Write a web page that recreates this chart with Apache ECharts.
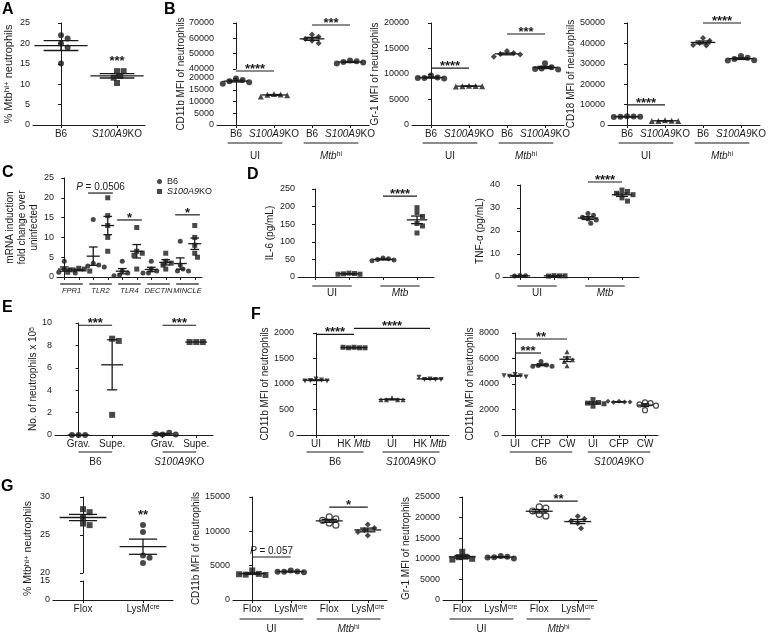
<!DOCTYPE html>
<html><head><meta charset="utf-8">
<script src="https://cdn.jsdelivr.net/npm/echarts@6/dist/echarts.min.js"></script>
<style>html,body{margin:0;padding:0;background:#fff}#c{width:768px;height:638px}</style>
</head><body><div id="c"></div><script>
// ================= DATA =================
// A
const A_cats = ['B6', 'S100A9KO'];
const A_B6 = [22.0, 21.2, 20.0, 19.0, 15.1];
const A_KO = [13.2, 13.2, 12.0, 11.6, 10.3];
// B (groups: B6 UI, KO UI, B6 Mtbhi, KO Mtbhi)
const B_cats = ['B6', 'S100A9KO', 'B6', 'S100A9KO'];
const B_groups = ['UI', 'Mtbhi'];
const B1_vals = [[19800,19200,18600,18200,17600],[13200,13000,12900,12700,12100],[62500,61000,59500,58500,56800],[45500,45000,44600,44200,43600]];
const B2_vals = [[9700,9300,9200,9100,9200],[7700,7650,7600,7600,7550],[14500,14100,13900,13800,13400],[12100,11300,11100,11000,10900]];
const B3_vals = [[4300,4200,4000,4000,3900],[2300,2100,2000,2000,1900],[42700,41300,40200,39200,39000],[33800,33000,32400,31800,31600]];
// C
const C_genes = ['FPR1','TLR2','TLR4','DECTIN','MINCLE'];
const C_series = ['B6','S100A9KO'];
const C_B6 = [[4.0,2.0,1.8,1.2,1.0],[14.5,3.5,3.0,2.8,2.5],[4.0,1.5,1.0,0.5,0.3],[4.0,2.0,1.5,1.0,1.0],[9.0,3.0,2.0,1.5,1.5]];
const C_KO = [[2.2,2.0,1.8,1.5,1.2],[20.0,15.5,13.0,10.0,6.5],[12.5,6.5,6.0,5.5,2.0],[6.0,4.0,3.5,3.0,2.0],[13.0,10.0,8.0,6.0,5.0]];
// D (B6 UI, KO UI, B6 Mtb, KO Mtb)
const D_groups = ['UI','Mtb'];
const D1_vals = [[], [11,10,9,8,8], [54,52,50,48,46], [197,183,172,152,145,125]];
const D2_vals = [[0.6,0.5,0.4], [0.6,0.5,0.4,0.5], [27.6,26.8,26.0,25.2,24.8,23.4], [37.8,37.2,36.4,35.8,34.4,33.0]];
// E
const E_cats = ['Grav.','Supe.','Grav.','Supe.'];
const E_groups = ['B6','S100A9KO'];
const E_vals = [[0,0,0],[8.6,8.4,1.8],[0.05,0.2,0.1,0.05],[8.3,8.3,8.3]];
// F
const F1_cats = ['UI','HK Mtb','UI','HK Mtb'];
const F1_vals = [[1100,1080,1070,1060,1060],[1720,1710,1710,1710,1720],[730,690,690,690,690],[1100,1090,1090,1090,1130]];
const F2_cats = ['UI','CFP','CW','UI','CFP','CW'];
const F2_vals = [[4750,4650,4600,4550,4650],[5770,5500,5450,5400,5400],[6520,6080,5900,5770,5430],[2780,2550,2500,2450,2260],[2640,2580,2560,2580,2640],[2560,2500,2400,2300,1950]];
const F_groups = ['B6','S100A9KO'];
// G
const G1_cats = ['Flox','LysMcre'];
const G1_vals = [[28.4,28.0,27.3,26.5,26.3],[26.3,25.4,22.3,22.0,21.3]];
const G_cats = ['Flox','LysMcre','Flox','LysMcre'];
const G_groups = ['UI','Mtbhi'];
const G2_vals = [[4300,3800,3700,3650,3750],[4300,4150,4100,4050,4100],[12100,11800,11600,11200,10900],[11000,10500,10200,9900,9400]];
const G3_vals = [[11700,10500,10400,10000,9800],[10700,10500,10400,10100,10300],[22600,22300,21600,20800,20400],[20300,19700,19200,18600,17400]];

// ================= LAYOUT / HELPERS =================
const FF = '"Liberation Sans", Arial, Helvetica, sans-serif';
const INK = '#1a1a1a';
const DOWN = 'path://M0,0L10,0L5,9Z';
const grids = [], xAxes = [], yAxes = [], series = [];

function rich(fs) {
  return {
    i: {fontStyle: 'italic', fontSize: fs, fontFamily: FF, color: INK},
    sup: {fontSize: Math.round(fs * 0.72), fontFamily: FF, color: INK, verticalAlign: 'top'}
  };
}
function fmt(s) {
  if (s === 'Mtbhi') return '{i|Mtb}{sup|hi}';
  if (s === 'Mtb') return '{i|Mtb}';
  return s.replace('S100A9KO', '{i|S100A9}KO').replace('HK Mtb', 'HK {i|Mtb}').replace('LysMcre', 'LysM{sup|cre}');
}
const mean = a => a.reduce((s, v) => s + v, 0) / a.length;
const sem = a => { if (a.length < 2) return 0; const m = mean(a); return Math.sqrt(a.reduce((s, v) => s + (v - m) ** 2, 0) / (a.length - 1) / a.length); };

function panel(o) {
  const gi = grids.length;
  const n = o.cats ? o.cats.length : (o.ticks ? o.ticks.length : 1);
  const xmin = o.xmin ?? -0.5, xmax = o.xmax ?? (n - 0.5);
  const ticks = o.ticks || Array.from({length: n}, (_, i) => i);
  grids.push({left: o.l, top: o.t, width: o.w, height: o.h, outerBoundsMode: 'none', containLabel: false, show: false});
  const nameOnly = !!o.nameOnly;
  xAxes.push({gridIndex: gi, type: 'value', min: xmin, max: xmax, show: !(o.hideX || nameOnly),
    axisLine: {show: true, onZero: false, lineStyle: {color: INK, width: 1}}, splitLine: {show: false},
    axisTick: {show: true, customValues: ticks, length: 3, lineStyle: {color: INK}},
    axisLabel: {show: !!o.cats, customValues: ticks, fontSize: 10, fontFamily: FF, color: INK, margin: 4, rich: rich(10),
      formatter: v => { const k = ticks.findIndex(t => Math.abs(t - v) < 1e-6); return (k < 0 || !o.cats) ? '' : fmt(o.cats[k]); }}});
  yAxes.push({gridIndex: gi, type: 'value', min: o.ymin ?? 0, max: o.ymax ?? 1, interval: o.yi,
    axisLine: {show: !nameOnly, lineStyle: {color: INK, width: 1}}, splitLine: {show: false},
    axisTick: {show: !nameOnly, length: 3, lineStyle: {color: INK}},
    axisLabel: {show: !nameOnly, fontSize: 9, fontFamily: FF, color: INK, margin: 3, formatter: v => String(v)},
    name: o.name || '', nameLocation: 'middle', nameRotate: 90, nameGap: o.ng || 25,
    nameTextStyle: {fontSize: o.nfs || 10, fontFamily: FF, color: INK, rich: rich(o.nfs || 10), lineHeight: o.nlh}});
  return {gi, ymin: o.ymin ?? 0, pxu: o.w / (xmax - xmin), pyu: o.h / ((o.ymax ?? 1) - (o.ymin ?? 0))};
}

function swarm(vals, cx, P, d) {
  const placed = [], out = [];
  const cands = [0];
  for (let i = 1; i <= 8; i++) cands.push(i * d * 0.55, -i * d * 0.55);
  vals.forEach(v => {
    const py = (v - P.ymin) * P.pyu;
    let off = cands[cands.length - 1];
    for (const c of cands) { if (placed.every(p => Math.hypot(p[0] - c, p[1] - py) >= d * 0.95)) { off = c; break; } }
    placed.push([off, py]);
    out.push([cx + off / P.pxu, v]);
  });
  return out;
}

function dots(P, cx, vals, sym, size, name) {
  if (!vals.length) return;
  const open = sym === 'emptyCircle';
  series.push({type: 'scatter', name: name, xAxisIndex: P.gi, yAxisIndex: P.gi, clip: false, silent: true, z: 3,
    data: swarm(vals, cx, P, size), symbol: open ? 'circle' : sym, symbolSize: size,
    itemStyle: open ? {color: '#fff', borderColor: INK, borderWidth: 1.2} : {color: INK}});
}

function bars(P, cx, vals, mw, sw) {
  if (!vals.length) return;
  series.push({type: 'custom', coordinateSystem: 'cartesian2d', xAxisIndex: P.gi, yAxisIndex: P.gi, clip: false, silent: true, z: 4,
    data: [[cx, mean(vals), sem(vals)]], encode: {x: 0, y: 1},
    renderItem: (params, api) => {
      const x = api.value(0), m = api.value(1), s = api.value(2);
      const u = api.size([1, 0])[0];
      const c = api.coord([x, m]), t = api.coord([x, m + s]), b = api.coord([x, m - s]);
      const hw = u * mw / 2, hs = u * sw / 2;
      const st = {stroke: INK, lineWidth: 1.3};
      const ch = [{type: 'line', shape: {x1: c[0] - hw, y1: c[1], x2: c[0] + hw, y2: c[1]}, style: st}];
      if (s > 0) {
        ch.push({type: 'line', shape: {x1: c[0], y1: t[1], x2: c[0], y2: b[1]}, style: st});
        ch.push({type: 'line', shape: {x1: c[0] - hs, y1: t[1], x2: c[0] + hs, y2: t[1]}, style: st});
        ch.push({type: 'line', shape: {x1: c[0] - hs, y1: b[1], x2: c[0] + hs, y2: b[1]}, style: st});
      }
      return {type: 'group', children: ch};
    }});
}

function sig(P, x1, x2, y, text, o = {}) {
  const star = /^\*+$/.test(text);
  series.push({type: 'custom', coordinateSystem: 'cartesian2d', xAxisIndex: P.gi, yAxisIndex: P.gi, clip: false, silent: true, z: 5,
    data: [[x1, x2, y]], encode: {x: [0, 1], y: 2},
    renderItem: (params, api) => {
      const a = api.coord([api.value(0), api.value(2)]), b = api.coord([api.value(1), api.value(2)]);
      const e = (o.ext || 0) * api.size([1, 0])[0];
      const ch = [];
      if (!o.noLine) ch.push({type: 'line', shape: {x1: a[0] - e, y1: a[1], x2: b[0] + e, y2: b[1]}, style: {stroke: INK, lineWidth: 1.2}});
      let ty;
      if (o.noLine) ty = a[1] + (star ? 3 : 0);
      else ty = star ? a[1] + 5 : a[1] - 1;
      ch.push({type: 'text', x: (a[0] + b[0]) / 2, y: ty,
        style: {text: star ? text : text.replace(/^P/, '{i|P}'), fill: INK, fontFamily: FF, fontSize: star ? 13 : 10,
          fontWeight: star ? 'bold' : 'normal', align: 'center', verticalAlign: o.noLine ? 'middle' : 'bottom', rich: rich(10)}});
      return {type: 'group', children: ch};
    }});
}

function grp(P, x1, x2, label, dl, dt, ext, o = {}) {
  const fs = o.fs || 10;
  series.push({type: 'custom', coordinateSystem: 'cartesian2d', xAxisIndex: P.gi, yAxisIndex: P.gi, clip: false, silent: true, z: 5,
    data: [[x1, x2, P.ymin]], encode: {x: [0, 1], y: 2},
    renderItem: (params, api) => {
      const a = api.coord([api.value(0), api.value(2)]), b = api.coord([api.value(1), api.value(2)]);
      const e = ext * api.size([1, 0])[0];
      return {type: 'group', children: [
        {type: 'line', shape: {x1: a[0] - e, y1: a[1] + dl, x2: b[0] + e, y2: a[1] + dl}, style: {stroke: INK, lineWidth: 1.2}},
        {type: 'text', x: (a[0] + b[0]) / 2, y: a[1] + dt,
          style: {text: o.italic ? label : fmt(label), fill: INK, fontFamily: FF, fontSize: fs, fontStyle: o.italic ? 'italic' : 'normal',
            align: 'center', verticalAlign: 'middle', rich: rich(fs)}}
      ]};
    }});
}

// ================= PANELS =================
// A
const PA = panel({l: 33, t: 23, w: 112, h: 102, cats: A_cats, ymin: 0, ymax: 25, yi: 5, name: '% Mtb{sup|hi+} neutrophils', ng: 19, nfs: 11});
dots(PA, 0, A_B6, 'circle', 6); dots(PA, 1, A_KO, 'rect', 6);
bars(PA, 0, A_B6, 0.95, 0.62); bars(PA, 1, A_KO, 0.95, 0.62);
sig(PA, 1, 1, 16.2, '***', {noLine: true});

// B
const B_sym = ['circle', 'triangle', 'diamond', 'circle'];
const B1up = panel({l: 217, t: 23, w: 152, h: 46, cats: B_cats, hideX: true, ymin: 40000, ymax: 70000, yi: 10000});
const B1lo = panel({l: 217, t: 78, w: 152, h: 47, cats: B_cats, ymin: 0, ymax: 20000, yi: 5000});
panel({l: 217, t: 23, w: 152, h: 102, nameOnly: true, name: 'CD11b MFI of neutrophils', ng: 31});
B1_vals.forEach((v, i) => { const P = i < 2 ? B1lo : B1up; dots(P, i, v, B_sym[i], 6); bars(P, i, v, 0.65, 0.4); });
sig(B1lo, 0, 1, 22980, '****'); sig(B1up, 2, 3, 68700, '***');
grp(B1lo, 0, 1, B_groups[0], 18, 31, 0.22); grp(B1lo, 2, 3, B_groups[1], 18, 31, 0.22);

const B2 = panel({l: 412, t: 23, w: 152, h: 102, cats: B_cats, ymin: 0, ymax: 20000, yi: 5000, name: 'Gr-1 MFI of neutrophils', ng: 25});
B2_vals.forEach((v, i) => { dots(B2, i, v, B_sym[i], 6); bars(B2, i, v, 0.65, 0.4); });
sig(B2, 0, 1, 11170, '****'); sig(B2, 2, 3, 17840, '***');
grp(B2, 0, 1, B_groups[0], 18, 31, 0.22); grp(B2, 2, 3, B_groups[1], 18, 31, 0.22);

const B3 = panel({l: 608, t: 23, w: 152, h: 102, cats: B_cats, ymin: 0, ymax: 50000, yi: 10000, name: 'CD18 MFI of neutrophils', ng: 25});
B3_vals.forEach((v, i) => { dots(B3, i, v, B_sym[i], 6); bars(B3, i, v, 0.65, 0.4); });
sig(B3, 0, 1, 9900, '****'); sig(B3, 2, 3, 50000, '****');
grp(B3, 0, 1, B_groups[0], 18, 31, 0.22); grp(B3, 2, 3, B_groups[1], 18, 31, 0.22);

// C
const PC = panel({l: 57, t: 178, w: 145, h: 99, ticks: [0,1,2,3,4,5,6,7,8,9], xmin: -0.5, xmax: 9.5, ymin: 0, ymax: 25, yi: 5,
  name: 'mRNA induction\nfold change over\nuninfected', ng: 17, nfs: 10, nlh: 12});
C_genes.forEach((g, k) => {
  dots(PC, 2 * k, C_B6[k], 'circle', 5, C_series[0]); dots(PC, 2 * k + 1, C_KO[k], 'rect', 5, C_series[1]);
  bars(PC, 2 * k, C_B6[k], 0.9, 0.6); bars(PC, 2 * k + 1, C_KO[k], 0.9, 0.6);
  grp(PC, 2 * k, 2 * k + 1, g, 7, 14, 0.28, {italic: true, fs: 7.5});
});
sig(PC, 2, 3, 21.2, 'P = 0.0506', {ext: 0.35}); sig(PC, 4, 5, 14.4, '*', {ext: 0.35}); sig(PC, 8, 9, 15.7, '*', {ext: 0.35});

// D
const D_sym = ['circle', 'rect', 'circle', 'rect'];
const D1 = panel({l: 298, t: 189, w: 136, h: 88, ticks: [0,1,2,3], ymin: 0, ymax: 250, yi: 50, name: 'IL-6 (pg/mL)', ng: 23});
D1_vals.forEach((v, i) => { dots(D1, i, v, D_sym[i], 5); bars(D1, i, v, 0.6, 0.35); });
sig(D1, 2, 3, 230, '****');
grp(D1, 0, 1, D_groups[0], 9, 16, 0.08); grp(D1, 2, 3, D_groups[1], 9, 16, 0.08);
const D2 = panel({l: 503, t: 185, w: 136, h: 92, ticks: [0,1,2,3], ymin: 0, ymax: 40, yi: 10, name: 'TNF-α (pg/mL)', ng: 18});
D2_vals.forEach((v, i) => { dots(D2, i, v, D_sym[i], 5); bars(D2, i, v, 0.6, 0.35); });
sig(D2, 2, 3, 41.3, '****');
grp(D2, 0, 1, D_groups[0], 9, 16, 0.08); grp(D2, 2, 3, D_groups[1], 9, 16, 0.08);

// E
const E_pos = [0, 2, 5, 7];
const PE = panel({l: 55, t: 323, w: 158, h: 112, cats: E_cats, ticks: E_pos, xmin: -1.4, xmax: 8, ymin: 0, ymax: 10, yi: 2,
  name: 'No. of neutrophils x 10{sup|5}', ng: 14});
E_vals.forEach((v, i) => { dots(PE, E_pos[i], v, i % 2 ? 'rect' : 'circle', 6); bars(PE, E_pos[i], v, 1.3, 0.6); });
sig(PE, 0, 2, 9.8, '***'); sig(PE, 5, 7, 9.8, '***');
grp(PE, 0, 2, E_groups[0], 17, 27, 0); grp(PE, 5, 7, E_groups[1], 17, 27, 0);

// F
const F1_sym = [DOWN, 'rect', 'triangle', DOWN];
const PF1 = panel({l: 297, t: 333, w: 152, h: 102, cats: F1_cats, ymin: 0, ymax: 2000, yi: 500, name: 'CD11b MFI of neutrophils', ng: 24});
F1_vals.forEach((v, i) => { dots(PF1, i, v, F1_sym[i], 5); bars(PF1, i, v, 0.7, 0.4); });
sig(PF1, 0, 1, 1973, '****'); sig(PF1, 1, 3, 2090, '****');
grp(PF1, 0, 1, F_groups[0], 17, 27, 0.25); grp(PF1, 2, 3, F_groups[1], 17, 27, 0.25);

const F2_sym = [DOWN, 'circle', 'triangle', 'rect', 'diamond', 'emptyCircle'];
const PF2 = panel({l: 502, t: 333, w: 156, h: 102, cats: F2_cats, ymin: 0, ymax: 8000, yi: 2000, name: 'CD11b MFI of neutrophils', ng: 26});
F2_vals.forEach((v, i) => { dots(PF2, i, v, F2_sym[i], 5); bars(PF2, i, v, 0.58, 0.32); });
sig(PF2, 0, 1, 6430, '***'); sig(PF2, 0, 2, 7530, '**');
grp(PF2, 0, 2, F_groups[0], 17, 27, 0.2); grp(PF2, 3, 5, F_groups[1], 17, 27, 0.2);

// G
const G1up = panel({l: 53, t: 497, w: 120, h: 76, cats: G1_cats, hideX: true, ymin: 20, ymax: 30, yi: 5});
const G1lo = panel({l: 53, t: 581, w: 120, h: 19, cats: G1_cats, ymin: 0, ymax: 15, yi: 15});
panel({l: 53, t: 497, w: 120, h: 103, nameOnly: true, name: '% Mtb{sup|hi+} neutrophils', ng: 19, nfs: 10.5});
dots(G1up, 0, G1_vals[0], 'rect', 6); dots(G1up, 1, G1_vals[1], 'circle', 6);
bars(G1up, 0, G1_vals[0], 0.78, 0.47); bars(G1up, 1, G1_vals[1], 0.78, 0.47);
sig(G1up, 1, 1, 28.0, '**', {noLine: true});

const G_sym = ['rect', 'circle', 'emptyCircle', 'diamond'];
const PG2 = panel({l: 233, t: 497, w: 154, h: 103, cats: G_cats, ymin: 0, ymax: 15000, yi: 5000, name: 'CD11b MFI of neutrophils', ng: 31});
G2_vals.forEach((v, i) => { dots(PG2, i, v, G_sym[i], 6); bars(PG2, i, v, 0.7, 0.4); });
sig(PG2, 0, 1, 6260, 'P = 0.057'); sig(PG2, 2, 3, 13540, '*');
grp(PG2, 0, 1, G_groups[0], 19, 29, 0.33); grp(PG2, 2, 3, G_groups[1], 19, 29, 0.33);

const PG3 = panel({l: 443, t: 497, w: 154, h: 103, cats: G_cats, ymin: 0, ymax: 25000, yi: 5000, name: 'Gr-1 MFI of neutrophils', ng: 31});
G3_vals.forEach((v, i) => { dots(PG3, i, v, G_sym[i], 6); bars(PG3, i, v, 0.7, 0.4); });
sig(PG3, 2, 3, 24000, '**');
grp(PG3, 0, 1, G_groups[0], 19, 29, 0.33); grp(PG3, 2, 3, G_groups[1], 19, 29, 0.33);

// panel letters
const letters = [['A', 2, 2], ['B', 164, 2], ['C', 2, 165], ['D', 247, 167], ['E', 2, 300], ['F', 251, 307], ['G', 1, 479]];

const chart = echarts.init(document.getElementById('c'), null, {renderer: 'canvas'});
chart.setOption({
  animation: false,
  backgroundColor: '#fff',
  textStyle: {fontFamily: FF},
  grid: grids, xAxis: xAxes, yAxis: yAxes, series: series,
  legend: {data: [{name: 'B6', icon: 'circle'}, {name: 'S100A9KO', icon: 'rect'}], orient: 'vertical', left: 152, top: 172,
    itemWidth: 5, itemHeight: 5, itemGap: 1, selectedMode: false, formatter: n => fmt(n),
    textStyle: {fontSize: 9, fontFamily: FF, color: INK, rich: rich(9)}},
  graphic: letters.map(([t, x, y]) => ({type: 'text', left: x, top: y, style: {text: t, fontFamily: FF, fontWeight: 'bold', fontSize: 16, fill: '#000'}}))
});
</script></body></html>
